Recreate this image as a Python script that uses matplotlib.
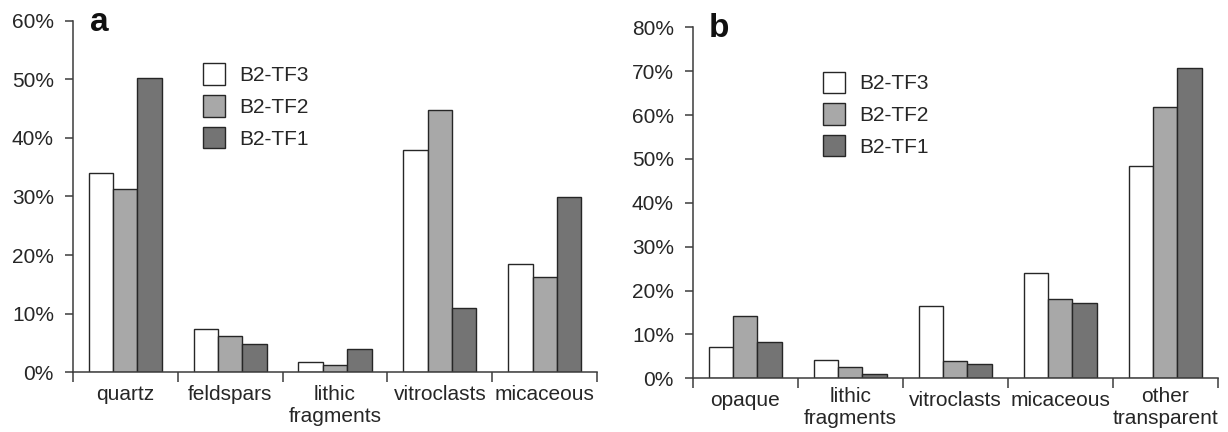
import matplotlib
matplotlib.use('Agg')
import matplotlib.pyplot as plt
import numpy as np
from matplotlib.patches import Patch
from matplotlib.ticker import FixedLocator, NullFormatter, FuncFormatter

plt.rcParams['font.family'] = ['Liberation Sans', 'DejaVu Sans']

# --- data (percent) ---
series = ['B2-TF3', 'B2-TF2', 'B2-TF1']
colors = ['#ffffff', '#a8a8a8', '#747474']

cats_a = ['quartz', 'feldspars', 'lithic\nfragments', 'vitroclasts', 'micaceous']
tf3_a = [34.0, 7.4, 1.7, 38.0, 18.4]
tf2_a = [31.3, 6.2, 1.3, 44.7, 16.3]
tf1_a = [50.3, 4.8, 3.9, 11.0, 29.9]

cats_b = ['opaque', 'lithic\nfragments', 'vitroclasts', 'micaceous', 'other\ntransparent']
tf3_b = [7.2, 4.1, 16.5, 24.0, 48.4]
tf2_b = [14.3, 2.6, 3.9, 18.1, 61.8]
tf1_b = [8.3, 1.0, 3.3, 17.1, 70.8]

TXT = '#262626'
AXC = '#3c3c3c'
FS = 15


def panel(ax, cats, vals, ymax, letter, leg_top, pads):
    n = len(cats)
    x = np.arange(n) + 0.5
    w = 0.232
    for i, (v, c) in enumerate(zip(vals, colors)):
        ax.bar(x + (i - 1) * w, v, w, color=c, edgecolor='#262626', linewidth=1.0,
               label=series[i], zorder=2)
    ax.set_xlim(0, n)
    ax.set_ylim(0, ymax)
    for s in ('top', 'right'):
        ax.spines[s].set_visible(False)
    for s in ('left', 'bottom'):
        ax.spines[s].set_color(AXC)
        ax.spines[s].set_linewidth(1.1)
    # category separators as major ticks, labels on minor ticks
    ax.xaxis.set_major_locator(FixedLocator(np.arange(n + 1)))
    ax.xaxis.set_major_formatter(NullFormatter())
    ax.xaxis.set_minor_locator(FixedLocator(x))
    ax.set_xticklabels(cats, minor=True)
    ax.tick_params(axis='x', which='major', direction='out', length=7, width=1.1, color=AXC)
    ax.tick_params(axis='x', which='minor', length=0, labelsize=FS, labelcolor=TXT)
    for t, p in zip(ax.xaxis.get_minor_ticks(), pads):
        t.set_pad(p)
    ax.set_yticks(np.arange(0, ymax + 1, 10))
    ax.yaxis.set_major_formatter(FuncFormatter(lambda v, p: f'{v:.0f}%'))
    ax.tick_params(axis='y', direction='out', length=5.5, width=1.1, color=AXC,
                   pad=8, labelsize=FS, labelcolor=TXT)
    ax.text(0.25, ymax * (1 - 0.029), letter, ha='center', va='baseline',
            fontsize=24, fontweight='bold', color='#111111')
    handles = [Patch(facecolor=c, edgecolor='#262626', linewidth=1.0) for c in colors]
    ax.legend(handles, series, loc='upper left', bbox_to_anchor=(1.245, leg_top),
              bbox_transform=ax.transData, frameon=False, fontsize=FS,
              handlelength=1.04, handleheight=1.2, labelspacing=0.48,
              handletextpad=0.69, borderpad=0, borderaxespad=0, labelcolor=TXT)


fig = plt.figure(figsize=(12.28, 4.32), dpi=100)
ax_a = fig.add_axes([0.0592, 0.1382, 0.4272, 0.8139])
ax_b = fig.add_axes([0.5641, 0.1243, 0.4275, 0.8125])

panel(ax_a, cats_a, [tf3_a, tf2_a, tf1_a], 60, 'a', 52.7, [9.5] * 5)
panel(ax_b, cats_b, [tf3_b, tf2_b, tf1_b], 80, 'b', 69.9, [9.5, 6, 9.5, 9.5, 6])

fig.savefig('out.png', dpi=100)
